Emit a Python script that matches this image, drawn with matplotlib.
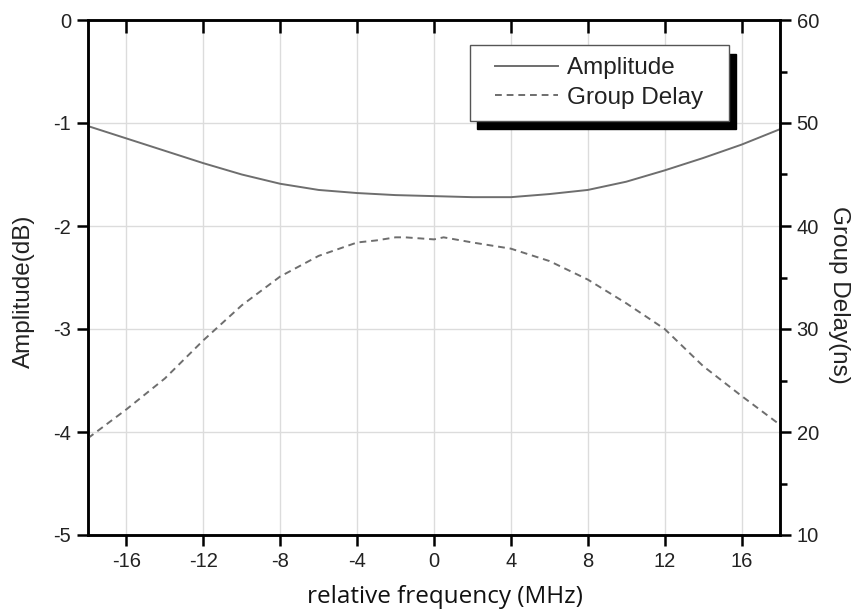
import numpy as np
import matplotlib.pyplot as plt
from matplotlib.ticker import MultipleLocator, FixedLocator
from matplotlib.legend_handler import HandlerLine2D

plt.rcParams['font.family'] = ['Liberation Sans', 'DejaVu Sans']
plt.rcParams['axes.unicode_minus'] = False

# values
amp_freq = [-18, -16, -14, -12, -10, -8, -6, -4, -2, 0, 2, 4, 6, 8, 10, 12, 14, 16, 18]
amp_db = [-1.03, -1.15, -1.27, -1.39, -1.50, -1.59, -1.65, -1.68, -1.70, -1.71,
          -1.72, -1.72, -1.69, -1.65, -1.57, -1.46, -1.34, -1.21, -1.06]

gd_freq = [-18, -16, -14, -12, -10, -8, -6, -4, -3, -2, -1.5, 0, 0.5, 2, 4, 6, 8,
           10, 12, 14, 16, 18]
gd_ns = [19.4, 22.2, 25.2, 28.9, 32.3, 35.1, 37.1, 38.4, 38.6, 38.9, 38.9, 38.7,
         38.9, 38.4, 37.8, 36.6, 34.8, 32.5, 30.0, 26.4, 23.5, 20.7]

x_ticks = [-16, -12, -8, -4, 0, 4, 8, 12, 16]
amp_ticks = [-5, -4, -3, -2, -1, 0]
gd_ticks = [10, 20, 30, 40, 50, 60]

line_color = '#6e6e6e'
text_color = '#222222'


class ShortLine(HandlerLine2D):
    # legend line sits at the right end of the handle box, leaving a wider left margin
    def get_xdata(self, legend, xdescent, ydescent, width, height, fontsize):
        xd, xm = super().get_xdata(legend, xdescent, ydescent, width, height, fontsize)
        return [xd[-1] - 45, xd[-1]], xm


fig = plt.figure(figsize=(8.6, 6.1), dpi=100)
ax = fig.add_axes([88 / 860, 1 - 535 / 610, 692 / 860, 515 / 610])

l1, = ax.plot(amp_freq, amp_db, color=line_color, lw=1.4, label='Amplitude')
ax.set_xlim(-18, 18)
ax.set_ylim(-5, 0)
ax.set_xticks(x_ticks)
ax.set_yticks(amp_ticks)
ax.grid(True, color='#dcdcdc', lw=1)
ax.set_axisbelow(True)
ax.tick_params(axis='both', direction='out', length=8, width=1.8,
               labelsize=14.5, labelcolor=text_color, pad=4)
# top ticks point inward: minor ticks at the major positions, shown on top only
ax.xaxis.set_minor_locator(FixedLocator(x_ticks))
ax.xaxis.remove_overlapping_locs = False
ax.tick_params(axis='x', which='minor', direction='in', length=9, width=1.8,
               top=True, bottom=False, labelbottom=False, labeltop=False)
ax.set_ylabel('Amplitude(dB)', fontsize=17.5, color=text_color, labelpad=13)
ax.yaxis.label.set_y(0.474)
ax.set_xlabel('relative frequency (MHz)', fontsize=17.5, family=['Open Sans', 'DejaVu Sans'],
              color='#111111', labelpad=10)
ax.xaxis.label.set_x(0.516)
for sp in ax.spines.values():
    sp.set_linewidth(1.8)

ax2 = ax.twinx()
l2, = ax2.plot(gd_freq, gd_ns, color=line_color, lw=1.4, linestyle=(0, (3.5, 2.5)),
               label='Group Delay')
ax2.set_ylim(10, 60)
ax2.set_yticks(gd_ticks)
ax2.yaxis.set_minor_locator(MultipleLocator(5))
ax2.tick_params(axis='y', which='major', direction='out', length=8, width=1.8,
                labelsize=14.5, labelcolor=text_color, pad=4)
ax2.tick_params(axis='y', which='minor', direction='out', length=5, width=1.8)
ax2.set_ylabel('Group Delay(ns)', fontsize=17.5, color=text_color, rotation=270,
               labelpad=22)
ax2.yaxis.label.set_y(0.466)
for sp in ax2.spines.values():
    sp.set_linewidth(1.8)

leg = ax2.legend(handles=[l1, l2], labels=['Amplitude  ', 'Group Delay  '],
                 loc='upper right', bbox_to_anchor=(0.926, 0.951),
                 borderaxespad=0, fancybox=False, fontsize=17.5,
                 shadow={'color': 'black', 'alpha': 1, 'ox': 5, 'oy': -6},
                 handlelength=3.1, handletextpad=0.38, borderpad=0.5,
                 labelspacing=0.3, handler_map={plt.Line2D: ShortLine()})
leg.get_frame().set_edgecolor('#555555')
leg.get_frame().set_linewidth(1)
for t in leg.get_texts():
    t.set_color(text_color)

fig.savefig('out.png', dpi=100)
